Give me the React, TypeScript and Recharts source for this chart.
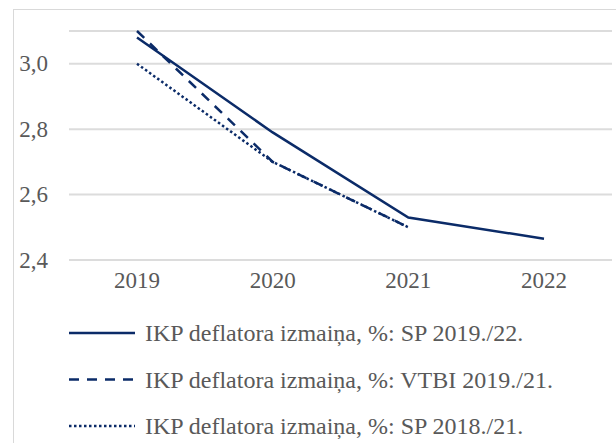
import React from 'react';
import { LineChart, Line, XAxis, YAxis, CartesianGrid, Legend } from 'recharts';

const years = ['2019', '2020', '2021', '2022'];
const sp1922 = [3.08, 2.79, 2.53, 2.465];
const vtbi1921 = [3.1, 2.7, 2.5, null];
const sp1821 = [3.0, 2.7, 2.5, null];
const yTicks = [2.4, 2.6, 2.8, 3.0];

const NAVY = '#0b2b68';
const GREY = '#595959';
const FONT = '"Liberation Serif", "Times New Roman", serif';

const seriesInfo = [
  { key: 'sp1922', name: 'IKP deflatora izmaiņa, %: SP 2019./22.', dash: undefined },
  { key: 'vtbi1921', name: 'IKP deflatora izmaiņa, %: VTBI 2019./21.', dash: '10 8' },
  { key: 'sp1821', name: 'IKP deflatora izmaiņa, %: SP 2018./21.', dash: '2.5 2.5' },
];

const data = years.map((y, i) => ({
  year: y,
  sp1922: sp1922[i],
  vtbi1921: vtbi1921[i],
  sp1821: sp1821[i],
}));

const fmt = (v: number) => v.toFixed(1).replace('.', ',');

const XTick = ({ x, y, payload }: any) => (
  <text x={x} y={y + 18} textAnchor="middle" dominantBaseline="central" fontSize={23} fill={GREY} fontFamily={FONT}>
    {payload.value}
  </text>
);

const YTick = ({ y, payload }: any) => (
  <text x={48} y={y} textAnchor="end" dominantBaseline="central" fontSize={23} fill={GREY} fontFamily={FONT}>
    {fmt(payload.value)}
  </text>
);

const LegendRows = () => (
  <svg width={520} height={120}>
    {seriesInfo.map((s, i) => {
      const cy = 14 + i * 46.5;
      return (
        <g key={s.key}>
          <line x1={0} x2={66} y1={cy} y2={cy} stroke={NAVY} strokeWidth={2.5} strokeDasharray={s.dash} />
          <text x={76} y={cy} dominantBaseline="central" fontSize={24} fill={GREY} fontFamily={FONT}>
            {s.name}
          </text>
        </g>
      );
    })}
  </svg>
);

export default function App() {
  return (
    <div style={{ position: 'absolute', left: 0, top: 0, width: 616, height: 443, overflow: 'hidden', background: '#fff' }}>
      <div style={{ position: 'absolute', left: 13, top: 9, width: 700, height: 500, border: '1px solid #d9d9d9' }} />
      <div style={{ position: 'absolute', left: 0, top: 0 }}>
        <LineChart width={616} height={443} data={data} margin={{ top: 31, right: 4, left: 0, bottom: 143 }}>
          <CartesianGrid vertical={false} stroke="#dcdcdc" strokeWidth={2} />
          <XAxis
            dataKey="year"
            axisLine={false}
            tickLine={false}
            tickSize={0}
            height={40}
            padding={{ left: 68, right: 68 }}
            tick={<XTick />}
          />
          <YAxis
            domain={[2.4, 3.1]}
            ticks={yTicks}
            axisLine={false}
            tickLine={false}
            tickSize={0}
            width={69}
            tick={<YTick />}
          />
          <Legend
            layout="horizontal"
            verticalAlign="middle"
            align="center"
            content={() => <LegendRows />}
            wrapperStyle={{ left: 69, top: 319, width: 520, height: 120 }}
          />
          {seriesInfo.map((s) => (
            <Line
              key={s.key}
              dataKey={s.key}
              name={s.name}
              type="linear"
              stroke={NAVY}
              strokeWidth={2.5}
              strokeDasharray={s.dash}
              dot={false}
              activeDot={false}
              connectNulls={false}
              isAnimationActive={false}
            />
          ))}
        </LineChart>
      </div>
    </div>
  );
}
